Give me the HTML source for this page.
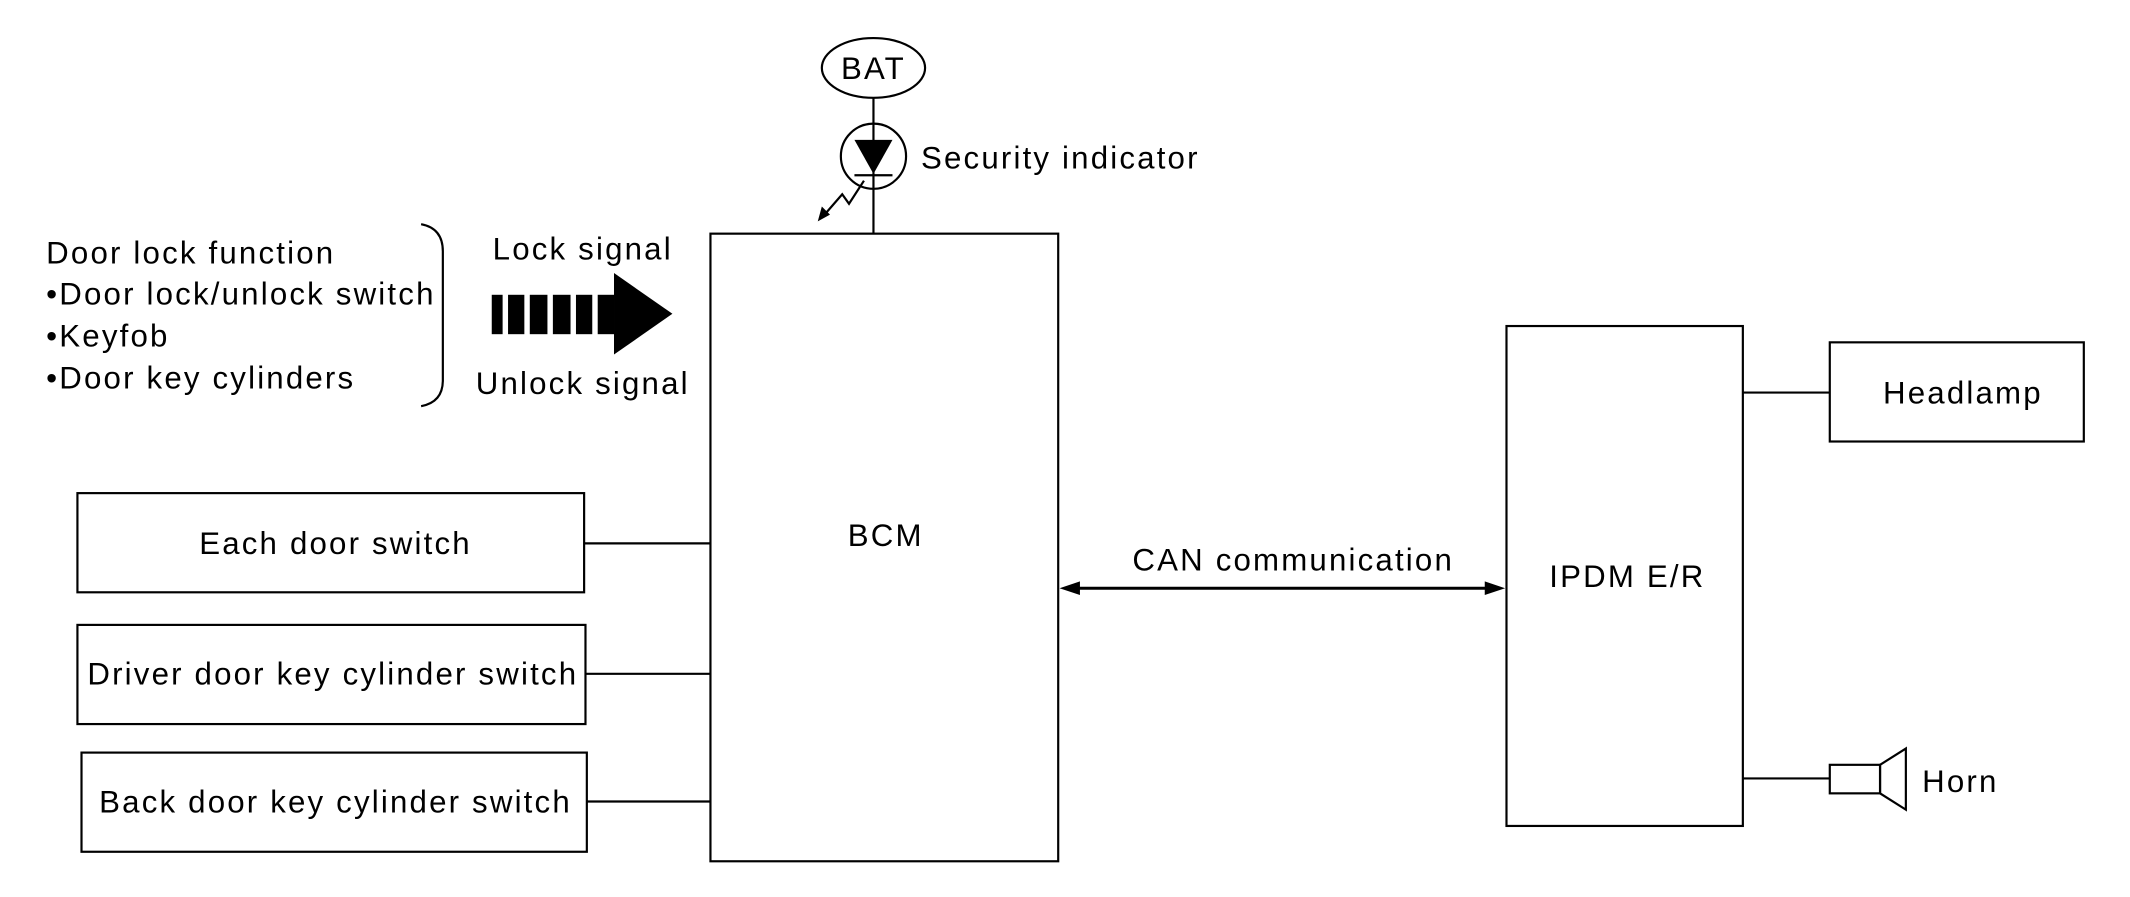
<!DOCTYPE html>
<html><head><meta charset="utf-8"><style>
html,body{margin:0;padding:0;background:#fff;}
svg{display:block;}
text{font-family:"Liberation Sans",sans-serif;font-size:23px;letter-spacing:1.6px;fill:#000;}
</style></head><body>
<svg width="2130" height="897" viewBox="0 0 1568 660.3" preserveAspectRatio="none" xmlns="http://www.w3.org/2000/svg">
<g fill="none" stroke="#000" stroke-width="1.6">
<ellipse cx="643" cy="50" rx="38" ry="22"/>
<line x1="643" y1="72" x2="643" y2="172"/>
<circle cx="643" cy="115" r="24"/>
<line x1="629" y1="129" x2="657" y2="129"/>
<polyline points="636,133 625,150 620,143 607,158"/>
<rect x="523" y="172" width="256" height="462"/>
<rect x="1109" y="240" width="174" height="368"/>
<rect x="1347" y="252" width="187" height="73"/>
<rect x="1347" y="563" width="37" height="21"/>
<polygon points="1384,563 1403,551 1403,596 1384,584"/>
<line x1="1283" y1="289" x2="1347" y2="289"/>
<line x1="1283" y1="573" x2="1347" y2="573"/>
<rect x="57" y="363" width="373" height="73"/>
<rect x="57" y="460" width="374" height="73"/>
<rect x="60" y="554" width="372" height="73"/>
<line x1="430" y1="400" x2="523" y2="400"/>
<line x1="431" y1="496" x2="523" y2="496"/>
<line x1="432" y1="590" x2="523" y2="590"/>
<line x1="792" y1="433" x2="1096" y2="433" stroke-width="2.2"/>
<path d="M310,165 Q326,168 326,185 L326,280 Q326,296 310,299"/>
</g>
<polygon points="629,103 657,103 643,128" fill="#000"/>
<polygon points="602,163 605,152 611,158" fill="#000"/>
<polygon points="780,433 795,428 795,438" fill="#000"/>
<polygon points="1108,433 1093,428 1093,438" fill="#000"/>
<g fill="#000">
<rect x="362" y="217" width="8" height="29"/>
<rect x="374" y="217" width="12" height="29"/>
<rect x="390" y="217" width="13" height="29"/>
<rect x="407" y="217" width="13" height="29"/>
<rect x="424" y="217" width="12" height="29"/>
<rect x="440" y="217" width="12" height="29"/>
<polygon points="452,201 495,231 452,261"/>
</g>
<text x="643" y="58" text-anchor="middle" font-size="23">BAT</text>
<text x="678" y="124">Security indicator</text>
<text x="34" y="194">Door lock function</text>
<text x="34" y="224">•Door lock/unlock switch</text>
<text x="34" y="255">•Keyfob</text>
<text x="34" y="286">•Door key cylinders</text>
<text x="429" y="191" text-anchor="middle">Lock signal</text>
<text x="429" y="290" text-anchor="middle">Unlock signal</text>
<text x="652" y="402" text-anchor="middle">BCM</text>
<text x="952" y="420" text-anchor="middle">CAN communication</text>
<text x="1198" y="432" text-anchor="middle">IPDM E/R</text>
<text x="1445" y="297" text-anchor="middle">Headlamp</text>
<text x="1415" y="583">Horn</text>
<text x="247" y="408" text-anchor="middle">Each door switch</text>
<text x="245" y="504" text-anchor="middle">Driver door key cylinder switch</text>
<text x="247" y="598" text-anchor="middle">Back door key cylinder switch</text>
</svg>
</body></html>
